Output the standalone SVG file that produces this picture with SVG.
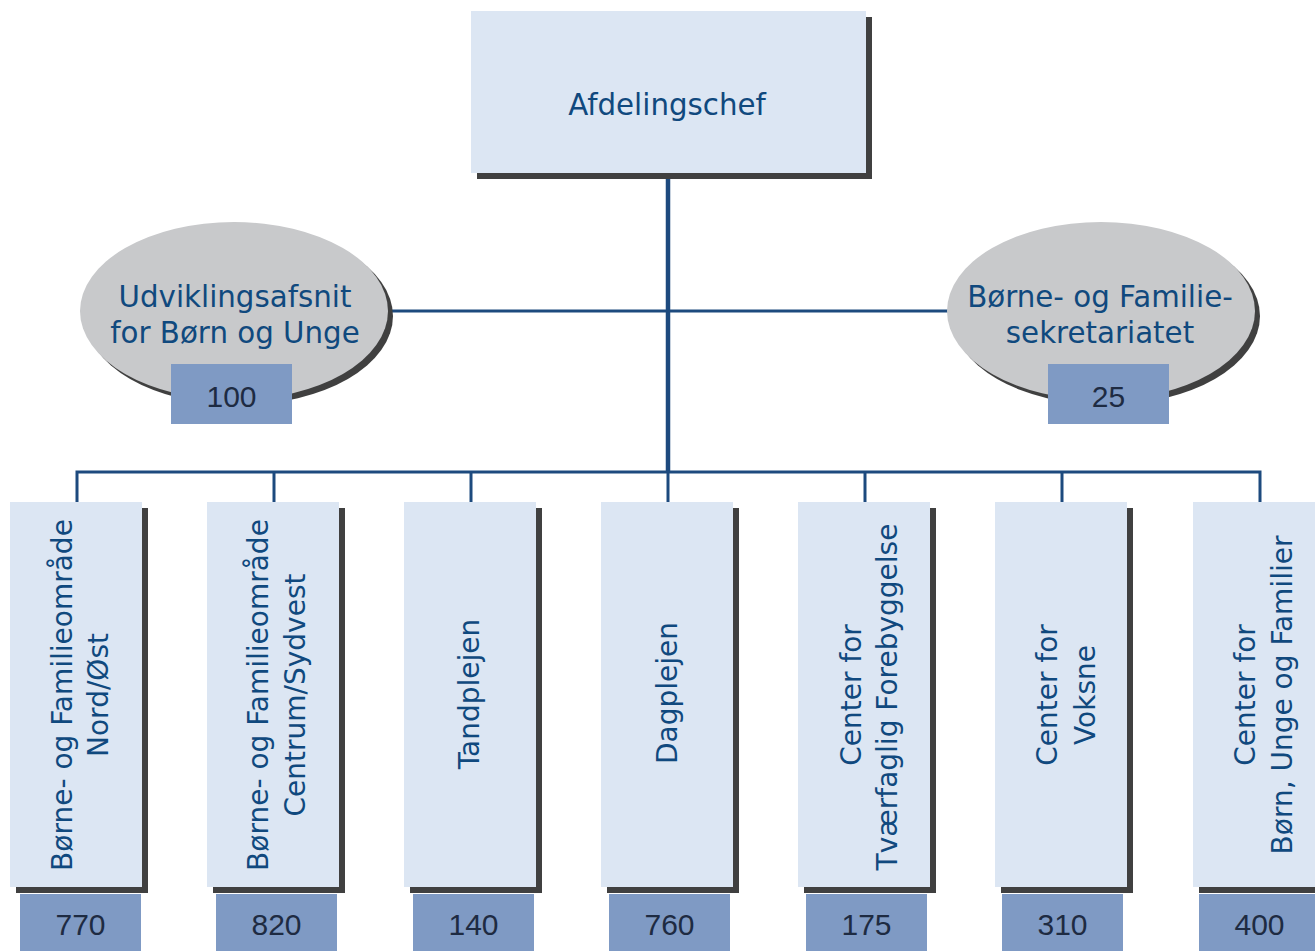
<svg xmlns="http://www.w3.org/2000/svg" width="1315" height="951" viewBox="0 0 1315 951">
<style>
.box{fill:#DCE6F3}
.shd{fill:#404040}
.ell{fill:#C8C9CB}
.num{fill:#7F9AC4}
.lbl{font-family:"DejaVu Sans",Verdana,sans-serif;font-size:28px;fill:#10497E;text-anchor:middle}
.big{font-size:29.3px}
.n{font-family:"Liberation Sans",Arial,sans-serif;font-size:30px;fill:#1E2B42;text-anchor:middle}
.ln{fill:none;stroke:#1D4A7E;stroke-width:3}
.trunk{fill:none;stroke:#1D4A7E;stroke-width:4.5}
</style>
<rect width="1315" height="951" fill="#FFFFFF"/>
<g id="connectors">
<line class="trunk" x1="668" y1="173" x2="668" y2="473"/>
<line class="ln" x1="385" y1="311" x2="950" y2="311"/>
<polyline class="ln" points="77,502 77,472 1260,472 1260,502"/>
<line class="ln" x1="274" y1="472" x2="274" y2="502"/>
<line class="ln" x1="471" y1="472" x2="471" y2="502"/>
<line class="ln" x1="668" y1="472" x2="668" y2="502"/>
<line class="ln" x1="865" y1="472" x2="865" y2="502"/>
<line class="ln" x1="1062" y1="472" x2="1062" y2="502"/>
</g>
<g id="afdelingschef">
<rect class="shd" x="477" y="17" width="395" height="162"/>
<rect class="box" x="471" y="11" width="395" height="162"/>
<text class="lbl big" x="667" y="115">Afdelingschef</text>
</g>
<g id="udviklingsafsnit">
<ellipse class="shd" cx="239" cy="316" rx="154" ry="89"/>
<ellipse class="ell" cx="234" cy="311" rx="154" ry="89"/>
<text class="lbl big" x="235" y="307">Udviklingsafsnit</text>
<text class="lbl big" x="235" y="343">for Børn og Unge</text>
<rect class="num" x="171" y="364" width="121" height="60"/>
<text class="n" x="231.5" y="407">100</text>
</g>
<g id="sekretariatet">
<ellipse class="shd" cx="1106" cy="316" rx="154" ry="89"/>
<ellipse class="ell" cx="1101" cy="311" rx="154" ry="89"/>
<text class="lbl big" x="1100" y="307">Børne- og Familie-</text>
<text class="lbl big" x="1100" y="343">sekretariatet</text>
<rect class="num" x="1048" y="364" width="121" height="60"/>
<text class="n" x="1108.5" y="407">25</text>
</g>
<g id="nordoest">
<rect class="shd" x="16" y="508" width="132" height="385"/>
<rect class="box" x="10" y="502" width="132" height="385"/>
<text class="lbl" transform="translate(72,695) rotate(-90)">Børne- og Familieområde</text>
<text class="lbl" transform="translate(108,695) rotate(-90)">Nord/Øst</text>
<rect class="num" x="20" y="894" width="121" height="60"/>
<text class="n" x="80.5" y="935">770</text>
</g>
<g id="centrum">
<rect class="shd" x="213" y="508" width="132" height="385"/>
<rect class="box" x="207" y="502" width="132" height="385"/>
<text class="lbl" transform="translate(268,695) rotate(-90)">Børne- og Familieområde</text>
<text class="lbl" transform="translate(305,695) rotate(-90)">Centrum/Sydvest</text>
<rect class="num" x="216" y="894" width="121" height="60"/>
<text class="n" x="276.5" y="935">820</text>
</g>
<g id="tandplejen">
<rect class="shd" x="410" y="508" width="132" height="385"/>
<rect class="box" x="404" y="502" width="132" height="385"/>
<text class="lbl" transform="translate(479,694) rotate(-90)">Tandplejen</text>
<rect class="num" x="413" y="894" width="121" height="60"/>
<text class="n" x="473.5" y="935">140</text>
</g>
<g id="dagplejen">
<rect class="shd" x="607" y="508" width="132" height="385"/>
<rect class="box" x="601" y="502" width="132" height="385"/>
<text class="lbl" transform="translate(677,693) rotate(-90)">Dagplejen</text>
<rect class="num" x="609" y="894" width="121" height="60"/>
<text class="n" x="669.5" y="935">760</text>
</g>
<g id="forebyggelse">
<rect class="shd" x="804" y="508" width="132" height="385"/>
<rect class="box" x="798" y="502" width="132" height="385"/>
<text class="lbl" transform="translate(861,695) rotate(-90)">Center for</text>
<text class="lbl" transform="translate(897,697) rotate(-90)">Tværfaglig Forebyggelse</text>
<rect class="num" x="806" y="894" width="121" height="60"/>
<text class="n" x="866.5" y="935">175</text>
</g>
<g id="voksne">
<rect class="shd" x="1001" y="508" width="132" height="385"/>
<rect class="box" x="995" y="502" width="132" height="385"/>
<text class="lbl" transform="translate(1057,695) rotate(-90)">Center for</text>
<text class="lbl" transform="translate(1095,695) rotate(-90)">Voksne</text>
<rect class="num" x="1002" y="894" width="121" height="60"/>
<text class="n" x="1062.5" y="935">310</text>
</g>
<g id="bornungefamilier">
<rect class="shd" x="1199" y="508" width="132" height="385"/>
<rect class="box" x="1193" y="502" width="132" height="385"/>
<text class="lbl" transform="translate(1255,695) rotate(-90)">Center for</text>
<text class="lbl" transform="translate(1292,695) rotate(-90)">Børn, Unge og Familier</text>
<rect class="num" x="1199" y="894" width="121" height="60"/>
<text class="n" x="1259.5" y="935">400</text>
</g>
</svg>
